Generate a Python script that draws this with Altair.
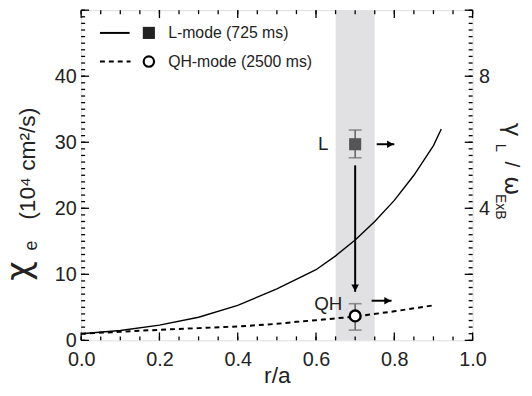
import altair as alt
import pandas as pd

# ---------------- data ----------------
r_L = [0.0, 0.1, 0.2, 0.3, 0.4, 0.5, 0.6, 0.65, 0.7, 0.75, 0.8, 0.85, 0.9, 0.92]
chi_L = [1.0, 1.5, 2.3, 3.5, 5.3, 7.8, 10.7, 12.8, 15.2, 18.0, 21.2, 25.0, 29.5, 32.0]
r_QH = [0.0, 0.1, 0.2, 0.3, 0.4, 0.5, 0.55, 0.6, 0.7, 0.8, 0.9]
chi_QH = [1.0, 1.3, 1.6, 1.85, 2.1, 2.5, 2.8, 3.05, 3.6, 4.4, 5.3]

pt_names = ["L", "QH"]
pt_r = [0.70, 0.70]
pt_gamma = [5.94, 0.74]
pt_lo = [5.53, 0.31]
pt_hi = [6.37, 1.11]

arrow_x0 = [0.755, 0.742]
arrow_x1 = [0.800, 0.793]
arrow_y = [5.94, 1.20]

v_r = [0.70]
v_y0 = [5.30]
v_y1 = [1.47]

band_r0 = [0.65]
band_r1 = [0.75]

x_major = [0.0, 0.2, 0.4, 0.6, 0.8, 1.0]
x_minor = [i * 0.05 for i in range(21)]
yl_major = [0, 10, 20, 30, 40, 50]
yl_minor = list(range(51))
yr_major = [0, 2, 4, 6, 8, 10]
yr_minor = [i * 0.2 for i in range(51)]
yl_labels = [0, 10, 20, 30, 40]
yr_labels = [4, 8]

legend_labels = ["L-mode (725 ms)", "QH-mode (2500 ms)"]

# ---------------- layout ----------------
W, H = 396, 334
MAJ, MIN = 8, 4
FONT = "Liberation Sans, Arial, sans-serif"
GREEK = "DejaVu Sans, sans-serif"
INK = "#222222"

xscale = alt.Scale(domain=[0, 1], nice=False, zero=False)
xaxis = alt.Axis(values=x_major, format=".1f", ticks=False, domain=False, grid=False,
                 labelFontSize=20, labelPadding=9, labelColor=INK, labelFont=FONT,
                 labelFlush=False,
                 title="r/a", titleFontSize=23, titleFontWeight="normal", titleColor=INK,
                 titleFont=FONT, titleY=43, titleBaseline="alphabetic")
ylscale = alt.Scale(domain=[0, 50], nice=False, zero=False)
ylaxis = alt.Axis(values=yl_labels, ticks=False, domain=False, grid=False, labelFlush=False,
                  labelFontSize=20, labelPadding=5, labelColor=INK, labelFont=FONT, title=None)
yrscale = alt.Scale(domain=[0, 10], nice=False, zero=False)
yraxis = alt.Axis(values=yr_labels, orient="right", ticks=False, domain=False, grid=False,
                  labelFlush=False,
                  labelFontSize=20, labelPadding=6, labelColor=INK, labelFont=FONT, title=None)


def X(f):
    return alt.X(f"{f}:Q", scale=xscale, axis=xaxis)


def YL(f):
    return alt.Y(f"{f}:Q", scale=ylscale, axis=ylaxis)


def YR(f):
    return alt.Y(f"{f}:Q", scale=yrscale, axis=yraxis)


def text_piece(t, x, y, size, angle=0, align="left", baseline="alphabetic", font=FONT):
    return alt.Chart(pd.DataFrame({"t": [t]})).mark_text(
        fontSize=size, angle=angle, align=align, baseline=baseline, font=font, color=INK
    ).encode(text="t:N", x=alt.value(x), y=alt.value(y))


# ---------------- left group ----------------
band = alt.Chart(pd.DataFrame({"a": band_r0, "b": band_r1})).mark_rect(color="#e1e1e3").encode(
    x=X("a"), x2=alt.X2("b"), y=alt.value(0), y2=alt.value(H))

dfL = pd.DataFrame({"r": r_L, "chi": chi_L})
dfQ = pd.DataFrame({"r": r_QH, "chi": chi_QH})
line_L = alt.Chart(dfL).mark_line(color="black", strokeWidth=1.4).encode(x=X("r"), y=YL("chi"))
line_Q = alt.Chart(dfQ).mark_line(color="black", strokeWidth=2, strokeDash=[5, 4]).encode(
    x=X("r"), y=YL("chi"))

tick_style = dict(color="black", strokeWidth=1.3)
lt_maj = alt.Chart(pd.DataFrame({"v": yl_major})).mark_rule(**tick_style).encode(
    y=YL("v"), x=alt.value(0), x2=alt.value(MAJ))
lt_min = alt.Chart(pd.DataFrame({"v": yl_minor})).mark_rule(**tick_style).encode(
    y=YL("v"), x=alt.value(0), x2=alt.value(MIN))
bt_maj = alt.Chart(pd.DataFrame({"v": x_major})).mark_rule(**tick_style).encode(
    x=X("v"), y=alt.value(H - MAJ), y2=alt.value(H))
bt_min = alt.Chart(pd.DataFrame({"v": x_minor})).mark_rule(**tick_style).encode(
    x=X("v"), y=alt.value(H - MIN), y2=alt.value(H))
tt_maj = alt.Chart(pd.DataFrame({"v": x_major})).mark_rule(**tick_style).encode(
    x=X("v"), y=alt.value(0), y2=alt.value(MAJ))
tt_min = alt.Chart(pd.DataFrame({"v": x_minor})).mark_rule(**tick_style).encode(
    x=X("v"), y=alt.value(0), y2=alt.value(MIN))

# legend
leg_dummy = pd.DataFrame({"k": [0]})
leg_line1 = alt.Chart(leg_dummy).mark_rule(color="black", strokeWidth=2).encode(
    x=alt.value(19), x2=alt.value(49), y=alt.value(23))
leg_line2 = alt.Chart(leg_dummy).mark_rule(color="black", strokeWidth=2, strokeDash=[5, 4]).encode(
    x=alt.value(19), x2=alt.value(50), y=alt.value(52))
leg_sq = alt.Chart(leg_dummy).mark_square(color="#222222", size=150, opacity=1).encode(
    x=alt.value(68.5), y=alt.value(23))
leg_ci = alt.Chart(leg_dummy).mark_circle(fill="white", stroke="black", strokeWidth=2.2,
                                          size=110, opacity=1).encode(
    x=alt.value(68.5), y=alt.value(52))
leg_t1 = text_piece(legend_labels[0], 88, 23, 16, baseline="middle")
leg_t2 = text_piece(legend_labels[1], 88, 52, 16, baseline="middle")

# left title: chi_e (10^4 cm^2/s)
lt_chi = text_piece("χ", -52, 264, 34, angle=270, align="center", font=GREEK)
lt_e = text_piece("e", -45, 238, 18, angle=270, align="center")
lt_rest = text_piece("(10⁴ cm²/s)", -47, 212, 23, angle=270, align="left")

left_group = alt.layer(band, line_L, line_Q, lt_min, lt_maj, bt_min, bt_maj, tt_min, tt_maj,
                       leg_line1, leg_line2, leg_sq, leg_ci, leg_t1, leg_t2,
                       lt_chi, lt_e, lt_rest)

# ---------------- right group ----------------
rt_maj = alt.Chart(pd.DataFrame({"v": yr_major})).mark_rule(**tick_style).encode(
    y=YR("v"), x=alt.value(W - MAJ), x2=alt.value(W))
rt_min = alt.Chart(pd.DataFrame({"v": yr_minor})).mark_rule(**tick_style).encode(
    y=YR("v"), x=alt.value(W - MIN), x2=alt.value(W))

dfP = pd.DataFrame({"name": pt_names, "r": pt_r, "g": pt_gamma, "lo": pt_lo, "hi": pt_hi})
err = alt.Chart(dfP).mark_rule(color="#666666", strokeWidth=1.6).encode(
    x=X("r"), y=YR("lo"), y2=alt.Y2("hi"))
caps_df = pd.DataFrame({"r": pt_r + pt_r, "v": pt_lo + pt_hi})
caps = alt.Chart(caps_df).mark_tick(color="#666666", thickness=1.6, size=13,
                                    orient="horizontal").encode(x=X("r"), y=YR("v"))
pL = alt.Chart(dfP[dfP.name == "L"]).mark_square(color="#555555", size=150, opacity=1).encode(
    x=X("r"), y=YR("g"))
pQ = alt.Chart(dfP[dfP.name == "QH"]).mark_circle(fill="white", stroke="black", strokeWidth=2.4,
                                                  size=120, opacity=1).encode(
    x=X("r"), y=YR("g"))

dfA = pd.DataFrame({"a": arrow_x0, "b": arrow_x1, "y": arrow_y})
ar_shaft = alt.Chart(dfA).mark_rule(color="black", strokeWidth=2).encode(
    x=X("a"), x2=alt.X2("b"), y=YR("y"))
ar_head = alt.Chart(dfA).mark_point(shape="triangle-right", filled=True, color="black",
                                    size=60, opacity=1, xOffset=-4).encode(x=X("b"), y=YR("y"))

dfV = pd.DataFrame({"r": v_r, "a": v_y0, "b": v_y1})
v_shaft = alt.Chart(dfV).mark_rule(color="black", strokeWidth=2).encode(
    x=X("r"), y=YR("a"), y2=alt.Y2("b"))
v_head = alt.Chart(dfV).mark_point(shape="triangle-down", filled=True, color="black",
                                   size=60, opacity=1, yOffset=-4).encode(x=X("r"), y=YR("b"))

lab_L = alt.Chart(dfP[dfP.name == "L"]).mark_text(
    fontSize=19, align="right", baseline="middle", dx=-27, font=FONT, color=INK).encode(
    x=X("r"), y=YR("g"), text="name:N")
lab_Q = alt.Chart(dfP[dfP.name == "QH"]).mark_text(
    fontSize=19, align="right", baseline="middle", dx=-13, dy=-12, font=FONT, color=INK).encode(
    x=X("r"), y=YR("g"), text="name:N")

# right title: gamma_L / omega_ExB
rt_g = text_piece("γ", 429, 114, 24, angle=90, font=GREEK)
rt_L = text_piece("L", 420, 135, 15, angle=90)
rt_s = text_piece("/", 429, 153, 21, angle=90)
rt_w = text_piece("ω", 429, 168, 23, angle=90, font=GREEK)
rt_E = text_piece("ExB", 420, 186, 14, angle=90)

right_group = alt.layer(rt_min, rt_maj, err, caps, pL, pQ, ar_shaft, ar_head, v_shaft, v_head,
                        lab_L, lab_Q, rt_g, rt_L, rt_s, rt_w, rt_E)

chart = alt.layer(left_group, right_group).resolve_scale(y="independent").properties(
    width=W, height=H,
    autosize=alt.AutoSizeParams(type="none"),
    padding={"left": 74, "top": 0, "right": 52, "bottom": 46},
).configure_view(stroke="black", strokeWidth=1.5).configure(font=FONT)

chart.save("out.html", embed_options={"renderer": "svg", "actions": False})
